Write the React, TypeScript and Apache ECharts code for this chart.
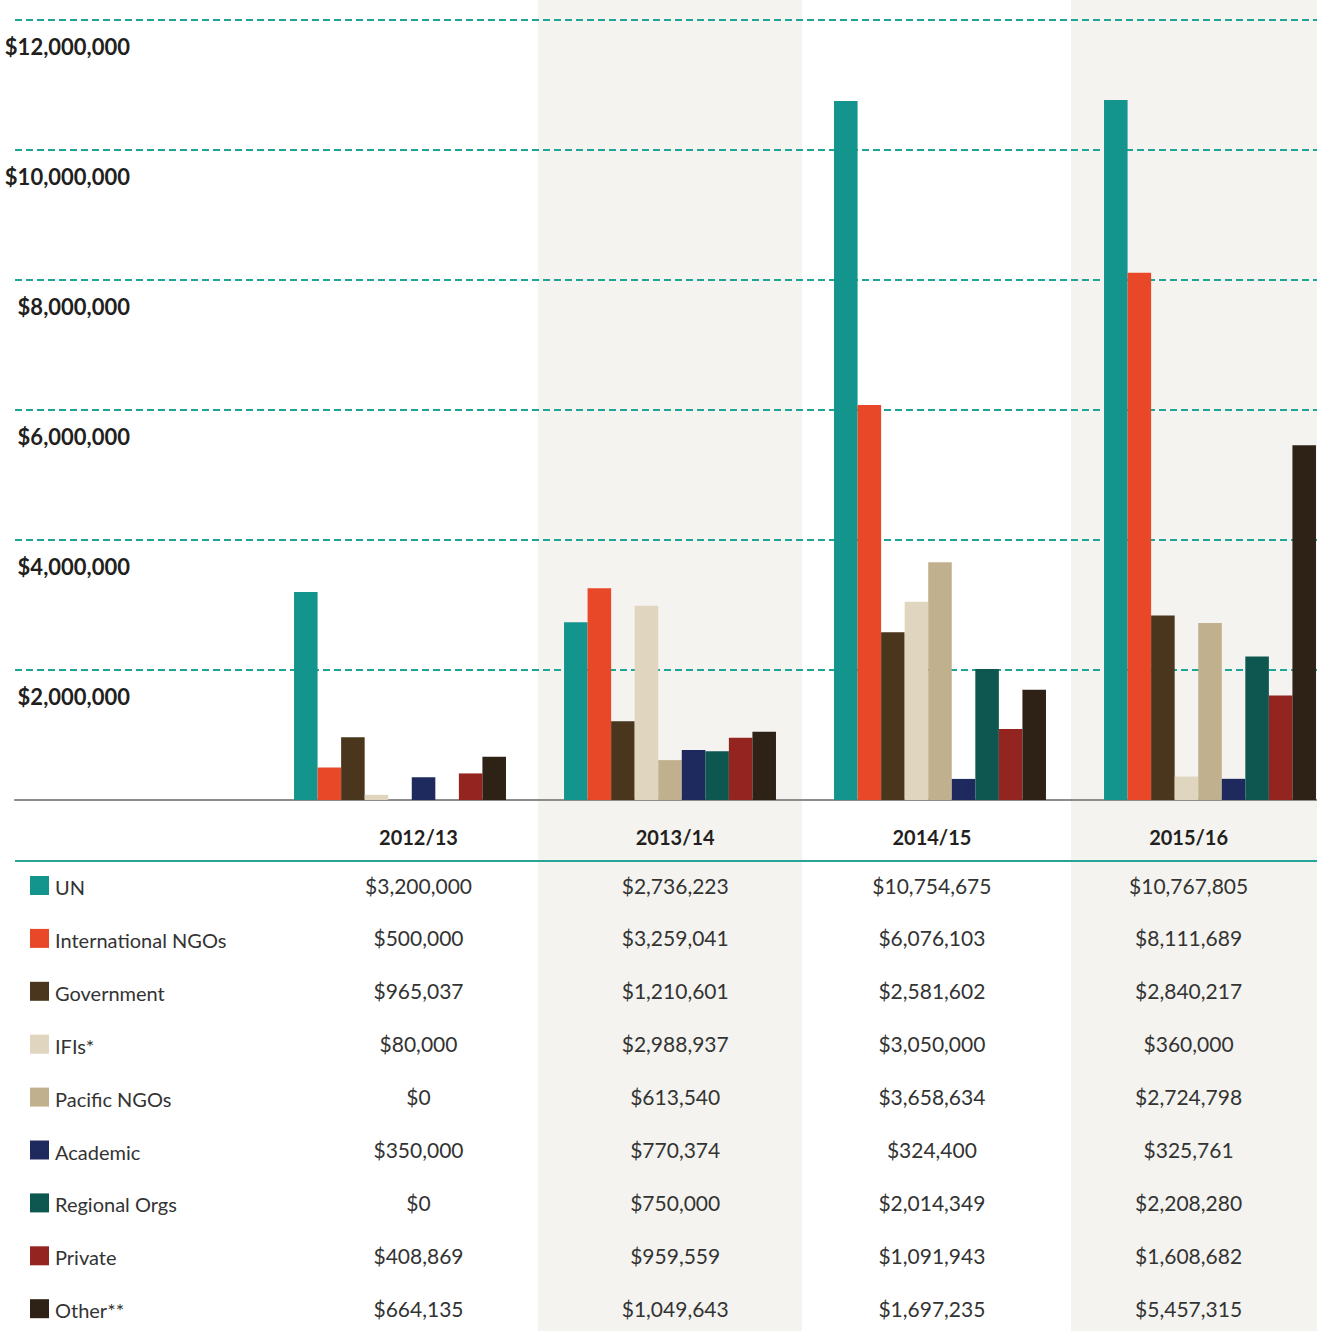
import React, { useEffect, useRef } from 'react';
import * as echarts from 'echarts';

const categories = ['2012/13', '2013/14', '2014/15', '2015/16'];
const seriesNames = ['UN', 'International NGOs', 'Government', 'IFIs*', 'Pacific NGOs', 'Academic', 'Regional Orgs', 'Private', 'Other**'];
const seriesColors = ['#13948d', '#e94828', '#4a361c', '#e0d5be', '#c0b08e', '#1e2a5e', '#0e5650', '#93241f', '#2e2115'];

const unValues = [3200000, 2736223, 10754675, 10767805];
const intlNgoValues = [500000, 3259041, 6076103, 8111689];
const governmentValues = [965037, 1210601, 2581602, 2840217];
const ifiValues = [80000, 2988937, 3050000, 360000];
const pacificNgoValues = [0, 613540, 3658634, 2724798];
const academicValues = [350000, 770374, 324400, 325761];
const regionalOrgValues = [0, 750000, 2014349, 2208280];
const privateValues = [408869, 959559, 1091943, 1608682];
const otherValues = [664135, 1049643, 1697235, 5457315];

const seriesValues = [unValues, intlNgoValues, governmentValues, ifiValues, pacificNgoValues, academicValues, regionalOrgValues, privateValues, otherValues];

const yTickValues = [0, 2000000, 4000000, 6000000, 8000000, 10000000, 12000000];

const fmt = (v: number) => '$' + v.toLocaleString('en-US');

export default function App() {
  const ref = useRef<HTMLDivElement>(null);
  useEffect(() => {
    if (!ref.current) return;
    const chart = echarts.init(ref.current, null, { renderer: 'svg' });
    const FONT = 'Lato, "Noto Sans", sans-serif';
    const colCenters = categories.map((_, i) => 418.5 + i * 256.7);
    const rowY = (i: number) => 885 + i * 52.9;

    const graphics: any[] = [
      { type: 'rect', z: -10, silent: true, shape: { x: 538, y: 0, width: 264, height: 1331 }, style: { fill: '#f4f3ef' } },
      { type: 'rect', z: -10, silent: true, shape: { x: 1071, y: 0, width: 280, height: 1331 }, style: { fill: '#f4f3ef' } },
      { type: 'line', z: 5, silent: true, shape: { x1: 15, y1: 861, x2: 1317, y2: 861 }, style: { stroke: '#27a497', lineWidth: 2 } },
    ];
    categories.forEach((c, i) => {
      graphics.push({
        type: 'text', z: 5, x: colCenters[i], y: 837,
        style: { text: c, fill: '#231f20', fontFamily: FONT, fontWeight: 'bold', fontSize: 20, align: 'center', verticalAlign: 'middle' },
      });
    });
    seriesNames.forEach((name, r) => {
      const y = rowY(r);
      graphics.push({ type: 'rect', z: 5, shape: { x: 30, y: y - 9, width: 19, height: 19 }, style: { fill: seriesColors[r] } });
      graphics.push({
        type: 'text', z: 5, x: 55, y: y + 2,
        style: { text: name, fill: '#333333', fontFamily: FONT, fontSize: 20, align: 'left', verticalAlign: 'middle' },
      });
      seriesValues[r].forEach((v, c) => {
        graphics.push({
          type: 'text', z: 5, x: colCenters[c], y,
          style: { text: fmt(v), fill: '#333333', fontFamily: FONT, fontSize: 21, align: 'center', verticalAlign: 'middle' },
        });
      });
    });

    chart.setOption({
      animation: false,
      grid: [
        { left: 15, right: 28, top: 20, bottom: 531 },
        { left: 265, right: 0, top: 20, bottom: 531 },
      ],
      xAxis: [
        {
          gridIndex: 0, type: 'category', data: [''],
          axisLine: { show: true, lineStyle: { color: '#8c8c8c', width: 2 } },
          axisTick: { show: false }, axisLabel: { show: false }, splitLine: { show: false },
          z: 3,
        },
        {
          gridIndex: 1, type: 'category', data: categories,
          axisLine: { show: false }, axisTick: { show: false }, axisLabel: { show: false }, splitLine: { show: false },
        },
      ],
      yAxis: [
        {
          gridIndex: 0, type: 'value', min: yTickValues[0], max: yTickValues[yTickValues.length - 1], interval: 2000000,
          axisLine: { show: false }, axisTick: { show: false },
          splitLine: { show: true, lineStyle: { color: '#1fa595', width: 2, type: [7, 4] } },
          axisLabel: {
            inside: true, margin: 115, align: 'right', verticalAlign: 'top', padding: [16, 0, 0, 0], lineHeight: 20,
            fontFamily: FONT, fontWeight: 'bold', fontSize: 22, color: '#231f20',
            formatter: (v: number) => (v === 0 ? '' : fmt(v)),
          },
        },
        {
          gridIndex: 1, type: 'value', min: yTickValues[0], max: yTickValues[yTickValues.length - 1], show: false,
        },
      ],
      graphic: graphics,
      series: seriesNames.map((name, i) => ({
        name, type: 'bar', xAxisIndex: 1, yAxisIndex: 1,
        data: seriesValues[i],
        itemStyle: { color: seriesColors[i] },
        barGap: '0%', barCategoryGap: '21.5%',
        z: 4,
      })),
    });
    return () => chart.dispose();
  }, []);
  return (
    <div style={{ position: 'absolute', left: 0, top: 0, width: 1317, height: 1331, overflow: 'hidden', background: '#ffffff' }}>
      <div ref={ref} style={{ position: 'absolute', left: 0, top: 0, width: 1345, height: 1331 }} />
    </div>
  );
}
